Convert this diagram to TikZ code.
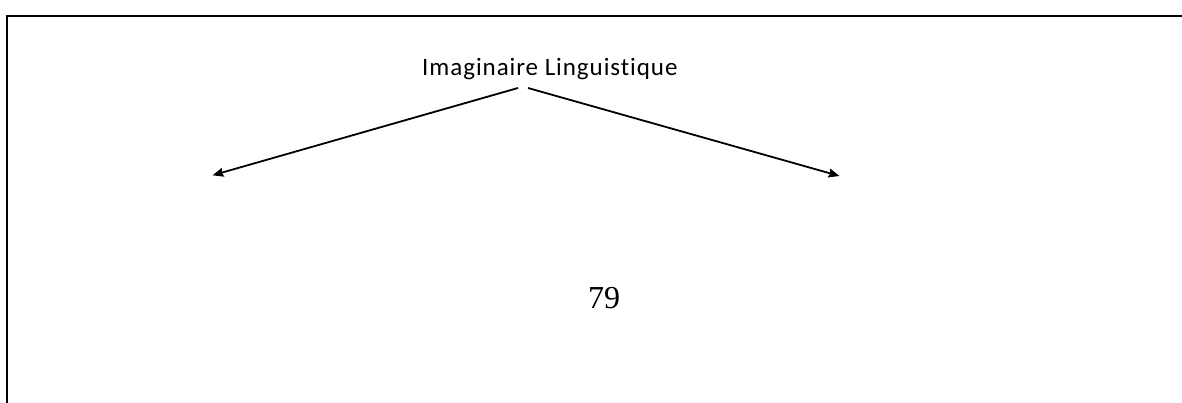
\documentclass[tikz,border=0pt]{standalone}
\usepackage{fontspec}
\setmainfont{Liberation Serif}
\newfontfamily\calfont[Ligatures=NoCommon,LetterSpace=3.8]{Carlito}
\usetikzlibrary{arrows.meta}
\tikzset{
  frameline/.style={line width=1.7pt, line cap=rect},
  arrowline/.style={line width=1.8pt, -{Stealth[length=11pt,width=9pt,inset=1.5pt]}},
  titletext/.style={inner sep=0pt, anchor=base west, font=\calfont\fontsize{25}{30}\selectfont},
  numtext/.style={inner sep=0pt, anchor=base west, font=\fontsize{32}{38}\selectfont}
}
\begin{document}
\begin{tikzpicture}[x=1pt,y=-1pt]
\useasboundingbox (0,0) rectangle (1182,403);
\coordinate (fbl) at (7.3,410);
\coordinate (ftl) at (7.3,15.7);
\coordinate (ftr) at (1190,15.7);
\draw[frameline] (fbl) -- (ftl) -- (ftr);
\node[titletext] (title) at (422,76) {Imaginaire Linguistique};
\node[numtext] (num) at (588,308) {79};
\coordinate (ls) at (518,88);
\coordinate (rs) at (528,88);
\coordinate (lt) at (212.5,175.3);
\coordinate (rt) at (839.5,176);
\draw[arrowline] (ls) -- (lt);
\draw[arrowline] (rs) -- (rt);
\end{tikzpicture}
\end{document}
